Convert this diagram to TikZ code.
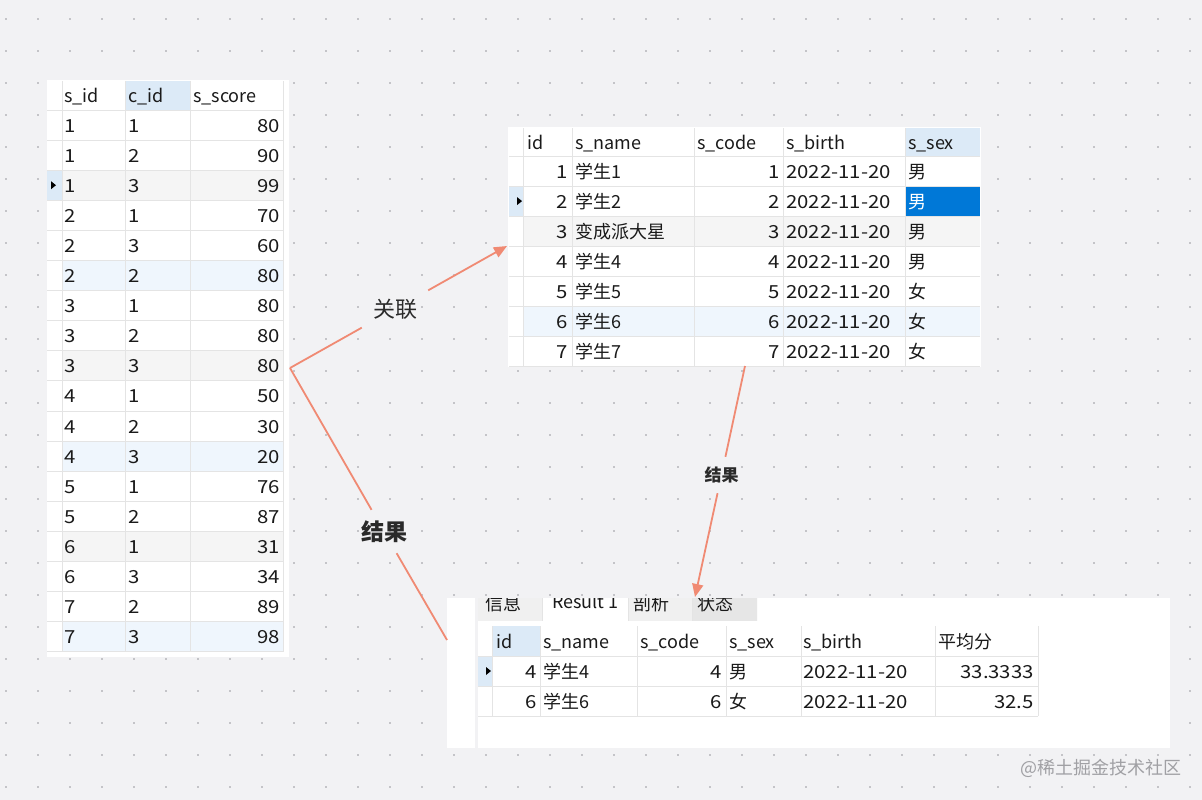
\documentclass[tikz,border=0pt]{standalone}
\usepackage{fontspec}
\setmainfont{Noto Sans CJK SC}
\newfontfamily\numf[FakeStretch=1.13]{Noto Sans CJK SC}
\usetikzlibrary{arrows.meta}
\definecolor{bg}{HTML}{F2F2F4}
\definecolor{dotc}{HTML}{C4C4C8}
\definecolor{gridc}{HTML}{E4E4E4}
\definecolor{hdrblue}{HTML}{DCEAF7}
\definecolor{rowblue}{HTML}{EFF6FD}
\definecolor{rowgray}{HTML}{F5F5F5}
\definecolor{selblue}{HTML}{0078D7}
\definecolor{arrowc}{HTML}{F08A73}
\definecolor{txt}{HTML}{1A1A1A}
\definecolor{lbltxt}{HTML}{2A2A2A}
\definecolor{tabgray}{HTML}{F0F0F0}
\definecolor{tabdark}{HTML}{E6E6E6}
\definecolor{wm}{HTML}{A0A0A4}
\begin{document}
\begin{tikzpicture}[x=1pt,y=-1pt,
  lcell/.style={inner sep=0pt,anchor=base west,font=\fontsize{18}{20}\selectfont,text=txt},
  rcell/.style={inner sep=0pt,anchor=base east,font=\fontsize{18}{20}\selectfont,text=txt},
  num/.style={font=\fontsize{18}{20}\selectfont\numf},
  gline/.style={draw=gridc,line width=1pt},
  conn/.style={draw=arrowc,line width=1.8pt},
  tip/.style={-{Triangle[length=13pt,width=11pt]}},
  lbl/.style={inner sep=0pt,text=lbltxt},
  marker/.style={fill=black}]
\useasboundingbox (0,0) rectangle (1202,800);
\fill[bg] (0,0) rectangle (1202,800);
% dot grid
\foreach \i in {0,...,37}{\foreach \j in {0,...,24}{
  \fill[dotc] ({6+32*\i-1.2},{19+32*\j-1.2}) rectangle ({6+32*\i+1.2},{19+32*\j+1.2});}}

% ================= left table =================
\fill[white] (47,80) rectangle (289,657);
\fill[hdrblue] (125,81) rectangle (190,110);
\foreach \i in {3,9,15}{\fill[rowgray] (62,{110+30.1*(\i-1)}) rectangle (283,{110+30.1*\i});}
\foreach \i in {6,12,18}{\fill[rowblue] (62,{110+30.1*(\i-1)}) rectangle (283,{110+30.1*\i});}
\fill[hdrblue] (47,{110+30.1*2}) rectangle (62,{110+30.1*3});
\foreach \k in {0,...,18}{\draw[gline] (47,{110+30.1*\k}) -- (283,{110+30.1*\k});}
\foreach \x in {62,125,190,283}{\draw[gline] (\x,81) -- (\x,652);}
\node[lcell] (Lh1) at (64,102) {s\_id};
\node[lcell] (Lh2) at (128,102) {c\_id};
\node[lcell] (Lh3) at (193,102) {s\_score};
\foreach \a/\b/\c [count=\i] in {1/1/80,1/2/90,1/3/99,2/1/70,2/3/60,2/2/80,3/1/80,3/2/80,3/3/80,4/1/50,4/2/30,4/3/20,5/1/76,5/2/87,6/1/31,6/3/34,7/2/89,7/3/98}{
  \pgfmathsetmacro\yb{110+30.1*(\i-1)+22}
  \node[lcell,num] (L\i a) at (64,\yb) {\a};
  \node[lcell,num] (L\i b) at (128,\yb) {\b};
  \node[rcell,num] (L\i c) at (280,\yb) {\c};
}
\fill[marker] (51,{110+30.1*2+11}) -- (56,{110+30.1*2+15}) -- (51,{110+30.1*2+19}) -- cycle;

% ================= top table =================
\fill[white] (508,127) rectangle (981,367);
\fill[hdrblue] (905,128) rectangle (980,156);
\fill[rowgray] (523,{156+30.1*2}) rectangle (980,{156+30.1*3});
\fill[rowblue] (523,{156+30.1*5}) rectangle (980,{156+30.1*6});
\fill[hdrblue] (509,{156+30.1}) rectangle (523,{156+30.1*2});
\fill[selblue] (905,{156+30.1}) rectangle (980,{156+30.1*2});
\foreach \k in {0,...,7}{\draw[gline] (509,{156+30.1*\k}) -- (980,{156+30.1*\k});}
\foreach \x in {523,572,694,783,905}{\draw[gline] (\x,128) -- (\x,366);}
\node[lcell] (Th1) at (527,149) {id};
\node[lcell] (Th2) at (575,149) {s\_name};
\node[lcell] (Th3) at (697,149) {s\_code};
\node[lcell] (Th4) at (786,149) {s\_birth};
\node[lcell] (Th5) at (908,149) {s\_sex};
\foreach \n/\s [count=\i] in {学生1/男,学生2/男,变成派大星/男,学生4/男,学生5/女,学生6/女,学生7/女}{
  \pgfmathsetmacro\yb{156+30.1*(\i-1)+22}
  \node[rcell,num] (T\i a) at (568,\yb) {\i};
  \node[lcell] (T\i b) at (575,\yb) {\n};
  \node[rcell,num] (T\i c) at (780,\yb) {\i};
  \node[lcell,num] (T\i d) at (786,\yb) {2022-11-20};
  \ifnum\i=2
    \node[lcell,text=white] (T\i e) at (908,\yb) {\s};
  \else
    \node[lcell] (T\i e) at (908,\yb) {\s};
  \fi
}
\fill[marker] (517,{156+30.1+11}) -- (522,{156+30.1+15}) -- (517,{156+30.1+19}) -- cycle;

% ================= bottom panel =================
\fill[white] (447,598) rectangle (475,748);
\fill[white] (478,598) rectangle (1170,748);
\begin{scope}
  \clip (478,598) rectangle (757,621);
  \fill[tabgray] (478,590) rectangle (542,621);
  \fill[tabgray] (628,590) rectangle (692,621);
  \fill[tabdark] (692,590) rectangle (757,621);
  \draw[gline] (542,590) -- (542,621);
  \draw[gline] (628,590) -- (628,621);
  \draw[gline] (692,590) -- (692,621);
  \draw[gline] (757,590) -- (757,621);
  \node[lcell] (tab1) at (485,610) {信息};
  \node[lcell] (tab2) at (552,608) {Result 1};
  \node[lcell] (tab3) at (633,610) {剖析};
  \node[lcell] (tab4) at (697,610) {状态};
\end{scope}
\fill[hdrblue] (492,626) rectangle (540,656);
\fill[hdrblue] (478,656) rectangle (492,686);
\foreach \y in {656,686,716}{\draw[gline] (478,\y) -- (1038,\y);}
\foreach \x in {492,540,637,726,801,935,1038}{\draw[gline] (\x,626) -- (\x,716);}
\node[lcell] (Bh1) at (496,648) {id};
\node[lcell] (Bh2) at (543,648) {s\_name};
\node[lcell] (Bh3) at (640,648) {s\_code};
\node[lcell] (Bh4) at (729,648) {s\_sex};
\node[lcell] (Bh5) at (803,648) {s\_birth};
\node[lcell] (Bh6) at (938,648) {平均分};
\foreach \d/\n/\s/\v [count=\i] in {4/学生4/男/33.3333,6/学生6/女/32.5}{
  \pgfmathsetmacro\yb{656+30*(\i-1)+22}
  \node[rcell,num] (B\i a) at (537,\yb) {\d};
  \node[lcell] (B\i b) at (543,\yb) {\n};
  \node[rcell,num] (B\i c) at (722,\yb) {\d};
  \node[lcell] (B\i d) at (729,\yb) {\s};
  \node[lcell,num] (B\i e) at (803,\yb) {2022-11-20};
  \node[rcell,num] (B\i f) at (1034,\yb) {\v};
}
\fill[marker] (486,667) -- (491,671) -- (486,675) -- cycle;

% ================= connectors =================
\coordinate (J) at (290,368);
\coordinate (T2in) at (507,246);
\coordinate (T3in) at (447,640);
\coordinate (T2out) at (745,366);
\coordinate (T3tab) at (695,597);
\node[lbl,minimum width=66pt,minimum height=40pt,font=\fontsize{22}{24}\selectfont] (rel) at (395,309) {关联};
\node[lbl,minimum width=50pt,minimum height=43pt,font=\fontsize{23}{25}\selectfont\bfseries] (res1) at (384,531.5) {结果};
\node[lbl,minimum width=40pt,minimum height=36pt,font=\fontsize{17}{19}\selectfont\bfseries] (res2) at (721.5,475) {结果};
\draw[conn] (J) -- (rel);
\draw[conn,tip] (rel) -- (T2in);
\draw[conn] (J) -- (res1);
\draw[conn] (res1) -- (T3in);
\draw[conn] (T2out) -- (res2);
\draw[conn,tip] (res2) -- (T3tab);

% watermark
\node[lcell,text=wm] (wmark) at (1020,774) {@稀土掘金技术社区};
\end{tikzpicture}
\end{document}
